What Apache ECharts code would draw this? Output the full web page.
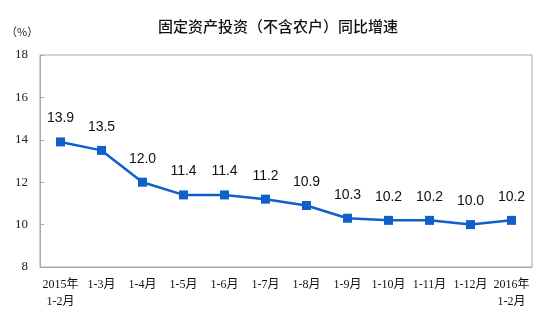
<!DOCTYPE html>
<html><head><meta charset="utf-8">
<script src="https://cdn.jsdelivr.net/npm/echarts@6/dist/echarts.min.js"></script>
<style>html,body{margin:0;padding:0;background:#fff}#c{width:549px;height:316px}</style>
</head><body><div id="c"></div>
<script>
const categories = ['2015年\n1-2月','1-3月','1-4月','1-5月','1-6月','1-7月','1-8月','1-9月','1-10月','1-11月','1-12月','2016年\n1-2月'];
const values = [13.9, 13.5, 12.0, 11.4, 11.4, 11.2, 10.9, 10.3, 10.2, 10.2, 10.0, 10.2];
const yTicks = [8, 10, 12, 14, 16, 18];

const chart = echarts.init(document.getElementById('c'));
chart.setOption({
  animation: false,
  title: {
    text: '固定资产投资（不含农户）同比增速',
    left: 273, top: 14, textAlign: 'center',
    textStyle: {fontFamily: 'Noto Sans CJK SC', fontSize: 15, fontWeight: 500, color: '#111'}
  },
  graphic: [{type:'text', left: 6, top: 26, style:{text:'（%）', font:'11px "Noto Sans CJK SC"', fill:'#222'}}],
  grid: {left: 40, right: 17, top: 55, bottom: 49, show: true, borderColor: '#a8a8a8', borderWidth: 1},
  xAxis: {
    type: 'category', data: categories, boundaryGap: true,
    axisLine: {lineStyle: {color: '#a8a8a8'}},
    axisTick: {inside: true, length: 4, lineStyle: {color: '#a8a8a8'}},
    axisLabel: {interval: 0, margin: 9, fontFamily: '"Liberation Serif","Noto Sans CJK SC"', fontSize: 12, color: '#111', lineHeight: 17, align: 'center'}
  },
  yAxis: {
    type: 'value', min: 8, max: 18, interval: 2,
    axisLine: {show: true, lineStyle: {color: '#a8a8a8'}},
    axisTick: {show: true, inside: true, length: 4, lineStyle: {color: '#a8a8a8'}},
    splitLine: {show: false},
    axisLabel: {margin: 12, fontFamily: '"Liberation Serif"', fontSize: 13, color: '#222',
      formatter: v => yTicks.includes(v) ? String(v) : ''}
  },
  series: [{
    type: 'line', data: values,
    symbol: 'rect', symbolSize: 9,
    lineStyle: {color: '#0f60c8', width: 2.5},
    itemStyle: {color: '#0f60c8'},
    label: {show: true, position: 'top', distance: 12, formatter: p => p.value.toFixed(1),
      fontFamily: '"Liberation Sans"', fontSize: 14, color: '#111'}
  }]
});
</script></body></html>
